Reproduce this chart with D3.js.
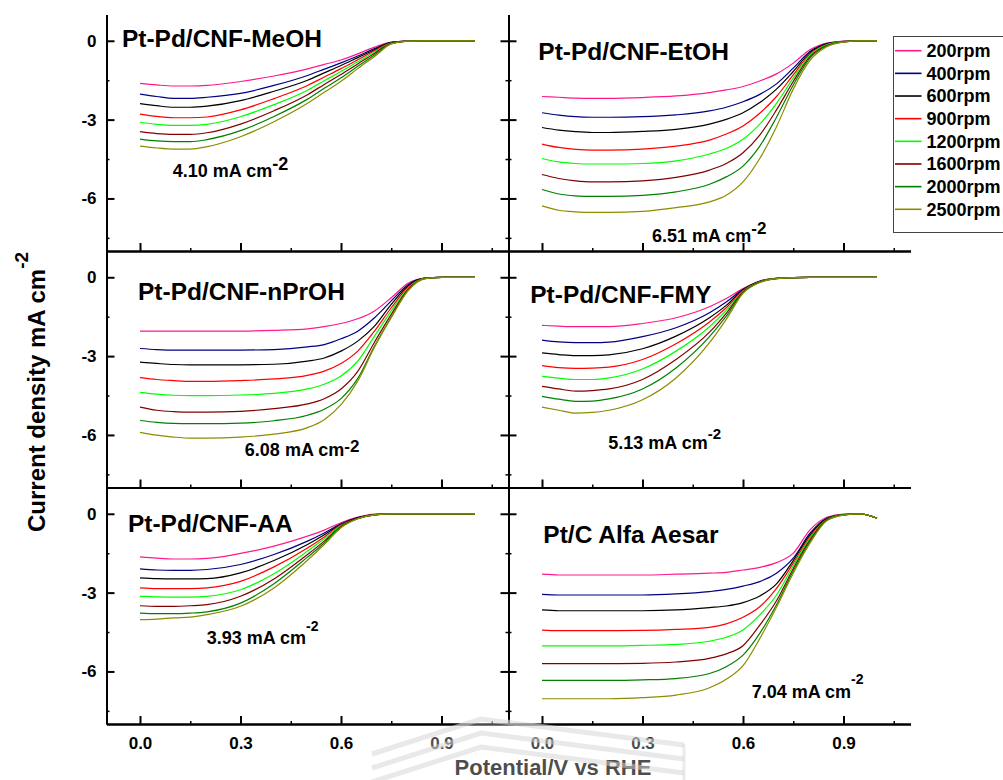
<!DOCTYPE html>
<html>
<head>
<meta charset="utf-8">
<script src="https://cdn.jsdelivr.net/npm/d3@7"></script>
<style>
  body { margin: 0; background: #fff; }
  svg { display: block; font-family: "Liberation Sans", Arial, Helvetica, sans-serif; font-weight: bold; }
</style>
</head>
<body>
<svg id="chart" width="1003" height="780"></svg>
<script>
// ---- data -------------------------------------------------------------
// Potential (V vs RHE) at which every curve is sampled
const potential = [0, 0.05, 0.1, 0.15, 0.2, 0.3, 0.4, 0.5, 0.55, 0.6, 0.65, 0.7, 0.75, 0.8, 0.85, 0.9, 0.95, 1.0];

const rotationRates = ["200rpm", "400rpm", "600rpm", "900rpm", "1200rpm", "1600rpm", "2000rpm", "2500rpm"];
const seriesColors = ["#FF1A8C", "#000080", "#000000", "#FF0000", "#00FF00", "#800000", "#008000", "#8C8C00"];

const catalysts = ["Pt-Pd/CNF-MeOH", "Pt-Pd/CNF-EtOH", "Pt-Pd/CNF-nPrOH", "Pt-Pd/CNF-FMY", "Pt-Pd/CNF-AA", "Pt/C Alfa Aesar"];
const limitingCurrent = ["4.10", "6.51", "6.08", "5.13", "3.93", "7.04"];

const xTickValues = [0, 0.3, 0.6, 0.9];
const xMinorTicks = [0.15, 0.45, 0.75, 1.05];
const yTickValues = [0, -3, -6];
const yMinorTicks = [-1.5, -4.5, -7.5];

// current density (mA cm-2), one row per rotation rate
const meohCurves = [
  [-1.62,-1.68,-1.72,-1.72,-1.70,-1.55,-1.34,-1.07,-0.90,-0.73,-0.50,-0.24,-0.05,-0.01,0,0,0,0],
  [-2.03,-2.12,-2.19,-2.19,-2.15,-2.00,-1.70,-1.32,-1.08,-0.84,-0.58,-0.30,-0.06,-0.01,0,0,0,0],
  [-2.39,-2.47,-2.53,-2.53,-2.49,-2.28,-1.92,-1.50,-1.22,-0.94,-0.64,-0.34,-0.07,-0.01,0,0,0,0],
  [-2.79,-2.88,-2.93,-2.93,-2.90,-2.63,-2.20,-1.70,-1.38,-1.06,-0.72,-0.38,-0.08,-0.01,0,0,0,0],
  [-3.10,-3.18,-3.22,-3.22,-3.18,-2.89,-2.43,-1.88,-1.52,-1.17,-0.80,-0.43,-0.09,-0.01,0,0,0,0],
  [-3.46,-3.53,-3.56,-3.56,-3.50,-3.17,-2.66,-2.05,-1.66,-1.28,-0.88,-0.48,-0.10,-0.01,0,0,0,0],
  [-3.74,-3.81,-3.84,-3.84,-3.76,-3.42,-2.88,-2.22,-1.81,-1.41,-0.97,-0.54,-0.11,-0.01,0,0,0,0],
  [-4.01,-4.08,-4.12,-4.12,-4.03,-3.65,-3.08,-2.38,-1.96,-1.54,-1.06,-0.60,-0.12,-0.01,0,0,0,0]
];
const etohCurves = [
  [-2.12,-2.15,-2.18,-2.19,-2.19,-2.16,-2.10,-1.97,-1.87,-1.74,-1.53,-1.26,-0.85,-0.34,-0.09,-0.01,0,0],
  [-2.74,-2.83,-2.89,-2.91,-2.91,-2.89,-2.82,-2.67,-2.53,-2.32,-2.04,-1.64,-1.04,-0.41,-0.11,-0.02,0,0],
  [-3.30,-3.40,-3.46,-3.49,-3.49,-3.45,-3.37,-3.17,-2.99,-2.74,-2.35,-1.84,-1.17,-0.45,-0.13,-0.03,0,0],
  [-3.93,-4.06,-4.13,-4.16,-4.16,-4.12,-4.01,-3.78,-3.55,-3.24,-2.76,-2.12,-1.30,-0.50,-0.14,-0.03,0,0],
  [-4.48,-4.61,-4.67,-4.69,-4.69,-4.67,-4.57,-4.31,-4.10,-3.75,-3.17,-2.38,-1.42,-0.55,-0.15,-0.03,0,0],
  [-5.09,-5.24,-5.33,-5.37,-5.37,-5.33,-5.20,-4.92,-4.67,-4.26,-3.59,-2.63,-1.55,-0.60,-0.18,-0.04,0,0],
  [-5.66,-5.83,-5.90,-5.92,-5.92,-5.88,-5.75,-5.46,-5.18,-4.77,-4.01,-2.91,-1.68,-0.66,-0.20,-0.04,0,0],
  [-6.28,-6.45,-6.51,-6.53,-6.53,-6.49,-6.35,-6.13,-5.88,-5.37,-4.48,-3.27,-1.84,-0.75,-0.23,-0.05,0,0]
];
const nprohCurves = [
  [-2.05,-2.05,-2.05,-2.05,-2.05,-2.05,-2.02,-1.96,-1.88,-1.76,-1.58,-1.28,-0.78,-0.23,-0.03,0,0,0],
  [-2.71,-2.75,-2.77,-2.77,-2.77,-2.77,-2.75,-2.65,-2.56,-2.34,-2.05,-1.54,-0.90,-0.28,-0.03,0,0,0],
  [-3.23,-3.28,-3.32,-3.33,-3.33,-3.33,-3.31,-3.19,-3.07,-2.81,-2.43,-1.86,-1.03,-0.33,-0.03,0,0,0],
  [-3.82,-3.89,-3.93,-3.96,-3.96,-3.93,-3.87,-3.73,-3.57,-3.28,-2.81,-2.05,-1.16,-0.38,-0.04,0,0,0],
  [-4.38,-4.45,-4.49,-4.50,-4.50,-4.48,-4.42,-4.25,-4.07,-3.76,-3.19,-2.24,-1.28,-0.42,-0.04,0,0,0],
  [-4.94,-5.06,-5.11,-5.13,-5.13,-5.10,-5.00,-4.82,-4.62,-4.25,-3.58,-2.47,-1.41,-0.46,-0.05,0,0,0],
  [-5.45,-5.52,-5.56,-5.57,-5.57,-5.55,-5.46,-5.25,-5.02,-4.62,-3.85,-2.62,-1.51,-0.50,-0.05,0,0,0],
  [-5.90,-6.01,-6.08,-6.12,-6.12,-6.08,-5.97,-5.72,-5.42,-4.85,-3.95,-2.66,-1.54,-0.52,-0.05,0,0,0]
];
const fmyCurves = [
  [-1.83,-1.86,-1.88,-1.88,-1.88,-1.76,-1.54,-1.12,-0.81,-0.43,-0.14,-0.04,-0.01,0,0,0,0,0],
  [-2.39,-2.46,-2.49,-2.49,-2.47,-2.26,-1.92,-1.35,-0.94,-0.46,-0.15,-0.04,-0.01,0,0,0,0,0],
  [-2.88,-2.94,-2.98,-2.98,-2.95,-2.72,-2.24,-1.54,-1.07,-0.48,-0.16,-0.04,-0.01,0,0,0,0,0],
  [-3.36,-3.44,-3.47,-3.46,-3.42,-3.13,-2.53,-1.70,-1.16,-0.51,-0.17,-0.04,-0.01,0,0,0,0,0],
  [-3.77,-3.84,-3.89,-3.89,-3.83,-3.49,-2.81,-1.88,-1.26,-0.53,-0.17,-0.04,-0.01,0,0,0,0,0],
  [-4.15,-4.25,-4.33,-4.31,-4.25,-3.89,-3.13,-2.09,-1.37,-0.56,-0.18,-0.05,-0.01,0,0,0,0,0],
  [-4.53,-4.64,-4.72,-4.71,-4.63,-4.25,-3.45,-2.26,-1.48,-0.59,-0.19,-0.05,-0.01,0,0,0,0,0],
  [-4.94,-5.06,-5.17,-5.14,-5.06,-4.66,-3.83,-2.49,-1.60,-0.61,-0.20,-0.05,-0.01,0,0,0,0,0]
];
const aaCurves = [
  [-1.64,-1.69,-1.72,-1.72,-1.70,-1.51,-1.23,-0.85,-0.62,-0.34,-0.13,-0.01,0,0,0,0,0,0],
  [-2.10,-2.14,-2.15,-2.15,-2.12,-1.93,-1.55,-1.04,-0.73,-0.38,-0.14,-0.03,0,0,0,0,0,0],
  [-2.44,-2.47,-2.48,-2.48,-2.47,-2.25,-1.78,-1.17,-0.80,-0.41,-0.15,-0.03,0,0,0,0,0,0],
  [-2.82,-2.85,-2.85,-2.85,-2.82,-2.57,-2.02,-1.30,-0.88,-0.43,-0.17,-0.03,0,0,0,0,0,0],
  [-3.14,-3.16,-3.17,-3.17,-3.14,-2.89,-2.28,-1.42,-0.95,-0.46,-0.18,-0.04,0,0,0,0,0,0],
  [-3.50,-3.52,-3.52,-3.50,-3.46,-3.14,-2.48,-1.55,-1.04,-0.48,-0.18,-0.04,0,0,0,0,0,0],
  [-3.78,-3.80,-3.80,-3.78,-3.73,-3.40,-2.66,-1.65,-1.11,-0.51,-0.19,-0.04,0,0,0,0,0,0],
  [-4.03,-4.01,-3.96,-3.93,-3.84,-3.52,-2.82,-1.77,-1.17,-0.53,-0.19,-0.04,0,0,0,0,0,0]
];
const ptcCurves = [
  [-2.30,-2.33,-2.33,-2.33,-2.33,-2.33,-2.30,-2.26,-2.23,-2.14,-2.04,-1.86,-1.50,-0.61,-0.13,-0.01,0,-0.17],
  [-3.07,-3.09,-3.09,-3.09,-3.09,-3.09,-3.05,-2.96,-2.88,-2.75,-2.58,-2.26,-1.69,-0.74,-0.17,-0.03,0,-0.17],
  [-3.66,-3.69,-3.69,-3.69,-3.69,-3.69,-3.66,-3.57,-3.51,-3.38,-3.13,-2.67,-1.78,-0.80,-0.19,-0.03,0,-0.17],
  [-4.43,-4.45,-4.45,-4.45,-4.45,-4.44,-4.40,-4.32,-4.19,-3.94,-3.54,-2.84,-1.88,-0.87,-0.22,-0.03,0,-0.17],
  [-5.03,-5.03,-5.03,-5.03,-5.03,-5.01,-4.97,-4.85,-4.70,-4.42,-3.85,-3.09,-1.98,-0.93,-0.23,-0.03,0,-0.17],
  [-5.70,-5.70,-5.70,-5.70,-5.70,-5.69,-5.64,-5.50,-5.33,-5.02,-4.24,-3.31,-2.09,-0.99,-0.24,-0.04,0,-0.17],
  [-6.34,-6.34,-6.34,-6.34,-6.34,-6.32,-6.27,-6.08,-5.82,-5.38,-4.55,-3.46,-2.18,-1.06,-0.25,-0.04,0,-0.17],
  [-7.04,-7.04,-7.04,-7.04,-7.04,-7.00,-6.90,-6.62,-6.30,-5.78,-4.75,-3.56,-2.26,-1.12,-0.27,-0.05,0,-0.17]
];
const panelCurves = [meohCurves, etohCurves, nprohCurves, fmyCurves, aaCurves, ptcCurves];

// ---- layout -----------------------------------------------------------
const colRange = [[106.5, 508.5], [508.5, 910.5]];
const rowTop0 = 14.5, rowH = 236.5;
// where each panel's name and limiting-current note sit, in data units
const panelText = [
  { title: [-0.054, -0.22], note: [0.098, -5.18], supSize: 18, supRise: 7 },
  { title: [-0.011, -0.73], note: [0.328, -7.66], supSize: 17, supRise: 8 },
  { title: [-0.006, -0.88], note: [0.313, -6.79], supSize: 17, supRise: 4 },
  { title: [-0.035, -0.99], note: [0.198, -6.53], supSize: 15, supRise: 10 },
  { title: [-0.036, -0.71], note: [0.199, -4.96], supSize: 14, supRise: 13 },
  { title: [0.004, -1.10], note: [0.626, -7.02], supSize: 14, supRise: 14 }
];

const svg = d3.select("#chart");
const gCurves = svg.append("g");
const gAxes = svg.append("g");
const gText = svg.append("g");
const hyphenMinus = d => String(d).replace("\u2212", "-");

function styleAxis(g, width) {
  g.select(".domain").attr("stroke", "#000").attr("stroke-width", 2);
  g.selectAll(".tick line").attr("stroke", "#000").attr("stroke-width", width);
  g.selectAll(".tick text").attr("fill", "#000").attr("font-size", 17)
    .attr("font-family", "'Liberation Sans', Arial, sans-serif").attr("font-weight", "bold");
}

catalysts.forEach((name, i) => {
  const col = i % 2, row = Math.floor(i / 2);
  const top = rowTop0 + row * rowH, bottom = top + rowH;
  const x = d3.scaleLinear().domain([-0.1, 1.1]).range(colRange[col]);
  const y = d3.scaleLinear().domain([-8, 1]).range([bottom, top]);

  const line = d3.line()
    .x((d, k) => x(potential[k]))
    .y(d => y(d))
    .curve(d3.curveMonotoneX);

  gCurves.append("g").selectAll("path")
    .data(panelCurves[i])
    .join("path")
    .attr("d", line)
    .attr("fill", "none")
    .attr("stroke", (d, k) => seriesColors[k])
    .attr("stroke-width", 1.2);

  // bottom axis with inward ticks; labels on the bottom row only
  const bx = gAxes.append("g").attr("transform", `translate(0,${bottom})`)
    .call(d3.axisBottom(x).tickValues(xTickValues).tickSizeInner(-8).tickSizeOuter(0)
      .tickPadding(13).tickFormat(row === 2 ? d3.format(".1f") : () => ""));
  styleAxis(bx, 2);
  const bxm = gAxes.append("g").attr("transform", `translate(0,${bottom})`)
    .call(d3.axisBottom(x).tickValues(xMinorTicks).tickSizeInner(-3).tickSizeOuter(0).tickFormat(() => ""));
  styleAxis(bxm, 1.5);

  // left axis with inward ticks; labels on the left column only
  const lx = colRange[col][0];
  const ly = gAxes.append("g").attr("transform", `translate(${lx},0)`)
    .call(d3.axisLeft(y).tickValues(yTickValues).tickSizeInner(-8).tickSizeOuter(0)
      .tickPadding(10).tickFormat(col === 0 ? d => hyphenMinus(d3.format("d")(d)) : () => ""));
  styleAxis(ly, 2);
  const lym = gAxes.append("g").attr("transform", `translate(${lx},0)`)
    .call(d3.axisLeft(y).tickValues(yMinorTicks).tickSizeInner(-3).tickSizeOuter(0).tickFormat(() => ""));
  styleAxis(lym, 1.5);

  // mirrored ticks on the shared divider for the left column
  if (col === 0) {
    const rx = colRange[col][1];
    const ry = gAxes.append("g").attr("transform", `translate(${rx},0)`)
      .call(d3.axisRight(y).tickValues(yTickValues).tickSizeInner(-8).tickSizeOuter(0).tickFormat(() => ""));
    styleAxis(ry, 2);
    const rym = gAxes.append("g").attr("transform", `translate(${rx},0)`)
      .call(d3.axisRight(y).tickValues(yMinorTicks).tickSizeInner(-3).tickSizeOuter(0).tickFormat(() => ""));
    styleAxis(rym, 1.5);
  }

  // panel name
  const pt = panelText[i];
  gText.append("text")
    .attr("x", x(pt.title[0])).attr("y", y(pt.title[1]))
    .attr("font-size", 24.5).attr("fill", "#000")
    .text(name);

  // limiting current note
  const note = gText.append("text")
    .attr("x", x(pt.note[0])).attr("y", y(pt.note[1]))
    .attr("font-size", 18).attr("fill", "#000");
  note.append("tspan").text(limitingCurrent[i] + " mA cm");
  note.append("tspan").attr("font-size", pt.supSize).attr("dy", -pt.supRise).text("-2");
});

// y-axis title
const yTitle = gText.append("text")
  .attr("transform", "translate(45,532) rotate(-90)")
  .attr("font-size", 24).attr("fill", "#000");
yTitle.append("tspan").text("Current density mA cm");
yTitle.append("tspan").attr("font-size", 19).attr("dy", -17).text("-2");

// x-axis title
gText.append("text")
  .attr("x", 553).attr("y", 775)
  .attr("text-anchor", "middle")
  .attr("font-size", 22).attr("fill", "#000")
  .text("Potential/V vs RHE");

// legend
const legend = svg.append("g");
legend.append("rect")
  .attr("x", 893.5).attr("y", 36.5).attr("width", 120).attr("height", 196)
  .attr("fill", "#fff").attr("stroke", "#444").attr("stroke-width", 1);
const legendY = d3.scalePoint().domain(rotationRates).range([50.7, 209.3]);
rotationRates.forEach((r, k) => {
  const yy = legendY(r);
  legend.append("line")
    .attr("x1", 895).attr("x2", 921.5).attr("y1", yy).attr("y2", yy)
    .attr("stroke", seriesColors[k]).attr("stroke-width", 1.6);
  legend.append("text")
    .attr("x", 926.5).attr("y", yy + 6.4)
    .attr("font-size", 18).attr("fill", "#000")
    .text(r);
});

// faint roof-shaped emblem behind the bottom axis title
const emblem = svg.append("g").attr("pointer-events", "none");
emblem.append("path")
  .attr("d", "M372,780 L372,756 L481,716 L684,742 L684,780 Z")
  .attr("fill", "#fff").attr("opacity", 0.3);
[0, 14, 28].forEach(o => {
  emblem.append("path")
    .attr("d", `M372,${754 + o} L481,${719 + o} L684,${745 + o}`)
    .attr("fill", "none").attr("stroke", "#d4d4d4").attr("stroke-width", 5).attr("opacity", 0.5);
});
emblem.append("line")
  .attr("x1", 684).attr("x2", 684).attr("y1", 744).attr("y2", 780)
  .attr("stroke", "#d8d8d8").attr("stroke-width", 3).attr("opacity", 0.5);
</script>
</body>
</html>
